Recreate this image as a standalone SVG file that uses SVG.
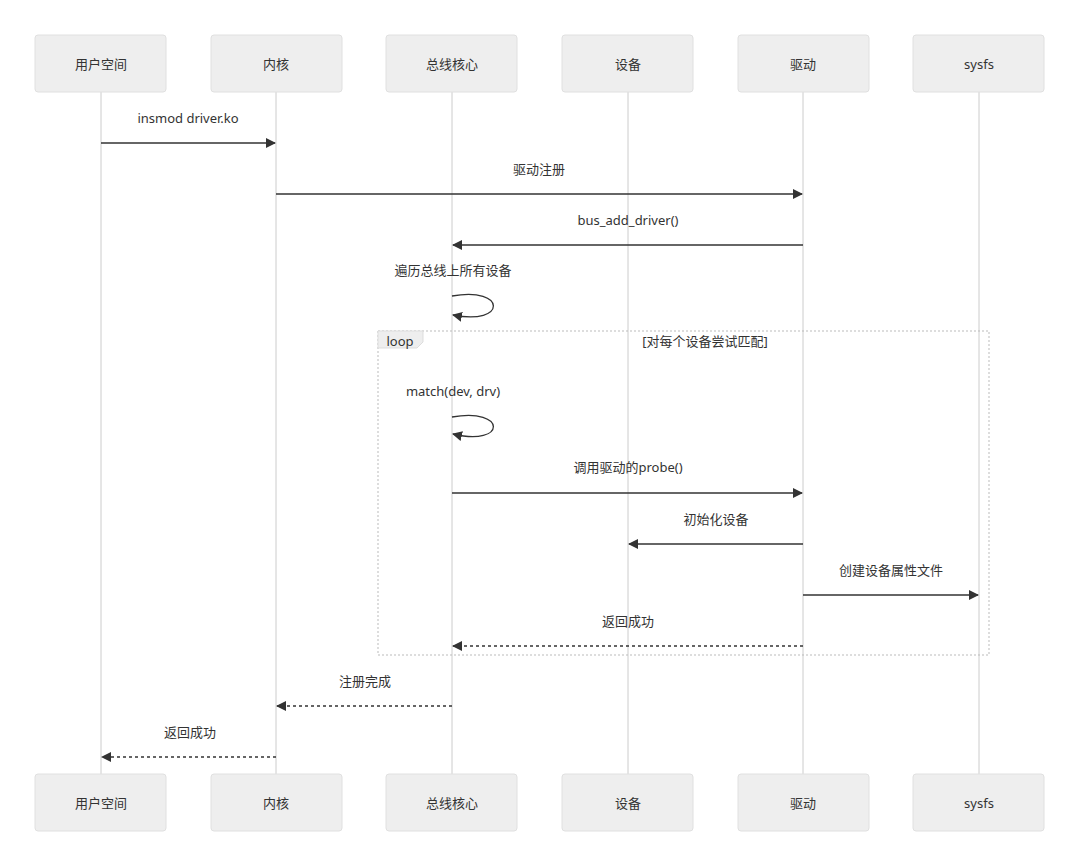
<svg xmlns="http://www.w3.org/2000/svg" width="1080" height="867" viewBox="0 0 1080 867">
<style>
.actor rect{fill:#eeeeee;stroke:#e0e0e0;stroke-width:1}
text{font-family:"Noto Sans","Noto Sans CJK SC",sans-serif;font-size:13px;fill:#333;text-anchor:middle;dominant-baseline:central}
.life{stroke:#cccccc;stroke-width:1}
.msg{stroke:#333;stroke-width:1.3;fill:none}
.dash{stroke-dasharray:3,3}
.loopbox{fill:none;stroke:#bbbbbb;stroke-width:1;stroke-dasharray:2,2}
</style>
<defs>
<marker id="arr" viewBox="0 0 10 10" refX="9" refY="5" markerWidth="10" markerHeight="10" markerUnits="userSpaceOnUse" orient="auto">
<path d="M0,0 L10,5 L0,10 z" fill="#333"/>
</marker>
</defs>
<rect width="1080" height="867" fill="#ffffff"/>
<g id="lifelines">
<line class="life" x1="101" y1="92" x2="101" y2="774"/>
<line class="life" x1="276" y1="92" x2="276" y2="774"/>
<line class="life" x1="452" y1="92" x2="452" y2="774"/>
<line class="life" x1="628" y1="92" x2="628" y2="774"/>
<line class="life" x1="803" y1="92" x2="803" y2="774"/>
<line class="life" x1="979" y1="92" x2="979" y2="774"/>
</g>
<g id="loop">
<rect class="loopbox" x="378" y="331" width="611" height="324"/>
<path d="M378,331 H423 V342 L417,348 H378 Z" fill="#eeeeee" stroke="#dddddd" stroke-width="1"/>
<text x="400" y="341">loop</text>
<text x="705" y="341">[对每个设备尝试匹配]</text>
</g>
<g id="actor-user" class="actor"><rect x="35" y="35" width="131" height="57" rx="3"/><text x="101" y="64">用户空间</text></g>
<g id="actor-kernel" class="actor"><rect x="211" y="35" width="131" height="57" rx="3"/><text x="276" y="64">内核</text></g>
<g id="actor-bus" class="actor"><rect x="386" y="35" width="131" height="57" rx="3"/><text x="452" y="64">总线核心</text></g>
<g id="actor-device" class="actor"><rect x="562" y="35" width="131" height="57" rx="3"/><text x="628" y="64">设备</text></g>
<g id="actor-driver" class="actor"><rect x="738" y="35" width="131" height="57" rx="3"/><text x="803" y="64">驱动</text></g>
<g id="actor-sysfs" class="actor"><rect x="913" y="35" width="131" height="57" rx="3"/><text x="979" y="64">sysfs</text></g>
<g id="actor-user-b" class="actor"><rect x="35" y="774" width="131" height="57" rx="3"/><text x="101" y="803">用户空间</text></g>
<g id="actor-kernel-b" class="actor"><rect x="211" y="774" width="131" height="57" rx="3"/><text x="276" y="803">内核</text></g>
<g id="actor-bus-b" class="actor"><rect x="386" y="774" width="131" height="57" rx="3"/><text x="452" y="803">总线核心</text></g>
<g id="actor-device-b" class="actor"><rect x="562" y="774" width="131" height="57" rx="3"/><text x="628" y="803">设备</text></g>
<g id="actor-driver-b" class="actor"><rect x="738" y="774" width="131" height="57" rx="3"/><text x="803" y="803">驱动</text></g>
<g id="actor-sysfs-b" class="actor"><rect x="913" y="774" width="131" height="57" rx="3"/><text x="979" y="803">sysfs</text></g>
<g id="connectors">
<text x="188" y="118">insmod driver.ko</text>
<line class="msg" x1="101" y1="143" x2="275" y2="143" marker-end="url(#arr)"/>
<text x="539" y="169">驱动注册</text>
<line class="msg" x1="276" y1="194" x2="802" y2="194" marker-end="url(#arr)"/>
<text x="628" y="220">bus_add_driver()</text>
<line class="msg" x1="803" y1="245" x2="453" y2="245" marker-end="url(#arr)"/>
<text x="453" y="270">遍历总线上所有设备</text>
<path class="msg" d="M452,296 C507,286 507,326 453,315" marker-end="url(#arr)"/>
<text x="453" y="391">match(dev, drv)</text>
<path class="msg" d="M452,417 C507,407 507,447 453,434" marker-end="url(#arr)"/>
<text x="628" y="467">调用驱动的probe()</text>
<line class="msg" x1="452" y1="493" x2="802" y2="493" marker-end="url(#arr)"/>
<text x="716" y="519">初始化设备</text>
<line class="msg" x1="803" y1="544" x2="629" y2="544" marker-end="url(#arr)"/>
<text x="891" y="570">创建设备属性文件</text>
<line class="msg" x1="803" y1="595" x2="978" y2="595" marker-end="url(#arr)"/>
<text x="628" y="621">返回成功</text>
<line class="msg dash" x1="803" y1="646" x2="453" y2="646" marker-end="url(#arr)"/>
<text x="365" y="681">注册完成</text>
<line class="msg dash" x1="452" y1="706" x2="277" y2="706" marker-end="url(#arr)"/>
<text x="190" y="732">返回成功</text>
<line class="msg dash" x1="276" y1="757" x2="102" y2="757" marker-end="url(#arr)"/>
</g>
</svg>
